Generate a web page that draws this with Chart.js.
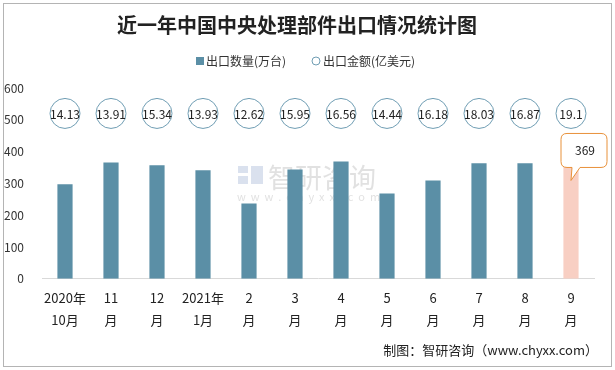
<!DOCTYPE html>
<html lang="zh">

<head>
    <meta charset="UTF-8">
    <title>近一年中国中央处理部件出口情况统计图</title>
    <script src="https://cdn.jsdelivr.net/npm/chart.js@4/dist/chart.umd.min.js"></script>
    <style>
        html, body { margin: 0; padding: 0; background: #fff; }
        #wrap { position: relative; width: 615px; height: 370px; }
        #frame { position: absolute; left: 3px; top: 3px; width: 607px; height: 362px; border: 1px solid #b4b4b4; pointer-events: none; }
    </style>
</head>

<body>
    <div id="wrap">
        <canvas id="myChart" width="615" height="370"></canvas>
        <div id="frame"></div>
    </div>

    <script>
        'use strict';

        // 月份（两行标签）
        const months = [
            ['2020年', '10月'], ['11', '月'], ['12', '月'], ['2021年', '1月'],
            ['2', '月'], ['3', '月'], ['4', '月'], ['5', '月'],
            ['6', '月'], ['7', '月'], ['8', '月'], ['9', '月']
        ];
        // 出口数量(万台)
        const qty = [297, 366, 357, 341, 237, 344, 369, 268, 309, 363, 363, 369];
        // 出口金额(亿美元)
        const amount = [14.13, 13.91, 15.34, 13.93, 12.62, 15.95, 16.56, 14.44, 16.18, 18.03, 16.87, 19.1];
        // 圆圈所在高度（轴上的数值）
        const circleLevel = 520;
        const yTicks = [0, 100, 200, 300, 400, 500, 600];

        const FONT = '"Noto Sans CJK SC", "Microsoft YaHei", sans-serif';
        const barColor = '#5b8fa6';
        const lastColor = '#f8cfc3';
        const circleColor = '#6f9db3';

        // 图例、金额圆圈里的数字、最后一根柱子的标注框、水印、来源
        const overlay = {
            id: 'overlay',
            beforeDatasetsDraw(chart) {
                const { ctx } = chart;
                ctx.save();
                // 水印
                ctx.fillStyle = 'rgba(170,170,170,0.35)';
                ctx.font = '27px ' + FONT;
                ctx.textAlign = 'left';
                ctx.textBaseline = 'middle';
                ctx.fillText('智研咨询', 268, 178);
                ctx.font = '11px ' + FONT;
                ctx.fillText('w  w  w  .  c  h  y  x  x  .  c  o  m', 237, 197);
                ctx.fillStyle = 'rgba(150,170,205,0.35)';
                ctx.fillRect(238, 166, 10, 7);
                ctx.fillRect(238, 176, 10, 8);
                ctx.fillRect(251, 166, 12, 18);
                ctx.restore();
            },
            afterDatasetsDraw(chart) {
                const { ctx } = chart;
                ctx.save();

                // 图例
                ctx.font = '12px ' + FONT;
                ctx.textBaseline = 'middle';
                ctx.textAlign = 'left';
                const ly = 61;
                const ds = chart.data.datasets;
                ctx.fillStyle = barColor;
                ctx.fillRect(196, ly - 4, 8, 8);
                ctx.fillStyle = '#333';
                ctx.fillText(ds[0].label, 206, ly);
                ctx.beginPath();
                ctx.arc(316, ly, 4, 0, Math.PI * 2);
                ctx.strokeStyle = circleColor;
                ctx.lineWidth = 1;
                ctx.stroke();
                ctx.fillText(ds[1].label, 323, ly);

                // 圆圈中的金额
                const pts = chart.getDatasetMeta(1).data;
                ctx.fillStyle = '#222';
                ctx.font = '12px ' + FONT;
                ctx.textAlign = 'center';
                pts.forEach((p, i) => ctx.fillText(String(amount[i]), p.x, p.y + 1));

                // 最后一根柱子的标注
                const bars = chart.getDatasetMeta(0).data;
                const last = bars[bars.length - 1];
                const bx = last.x, by = last.y;
                const left = bx - 10, right = bx + 36, top = by - 28, bottom = by + 6;
                const r = 6;
                ctx.beginPath();
                ctx.moveTo(left + r, top);
                ctx.lineTo(right - r, top);
                ctx.quadraticCurveTo(right, top, right, top + r);
                ctx.lineTo(right, bottom - r);
                ctx.quadraticCurveTo(right, bottom, right - r, bottom);
                ctx.lineTo(bx + 9, bottom);
                ctx.lineTo(bx, by + 19);
                ctx.lineTo(bx + 1, bottom);
                ctx.lineTo(left + r, bottom);
                ctx.quadraticCurveTo(left, bottom, left, bottom - r);
                ctx.lineTo(left, top + r);
                ctx.quadraticCurveTo(left, top, left + r, top);
                ctx.closePath();
                ctx.fillStyle = '#fff';
                ctx.fill();
                ctx.strokeStyle = '#e8913a';
                ctx.lineWidth = 1;
                ctx.stroke();
                ctx.fillStyle = '#222';
                ctx.fillText(String(qty[qty.length - 1]), (left + right) / 2 + 1, (top + bottom) / 2);

                // 来源
                ctx.font = '13px ' + FONT;
                ctx.textAlign = 'right';
                ctx.fillStyle = '#222';
                ctx.fillText('制图：智研咨询（www.chyxx.com）', 598, 350);
                ctx.restore();
            }
        };

        const ctx = document.getElementById('myChart').getContext('2d');
        const myChart = new Chart(ctx, {
            type: 'bar',
            data: {
                labels: months,
                datasets: [{
                    label: '出口数量(万台)',
                    data: qty,
                    backgroundColor: qty.map((v, i) => i === qty.length - 1 ? lastColor : barColor),
                    barPercentage: 0.66,
                    categoryPercentage: 0.5
                }, {
                    type: 'line',
                    label: '出口金额(亿美元)',
                    data: amount.map(() => circleLevel),
                    showLine: false,
                    pointStyle: 'circle',
                    pointRadius: 15,
                    pointBorderWidth: 1,
                    pointBorderColor: circleColor,
                    pointBackgroundColor: '#fff',
                    borderColor: circleColor,
                    backgroundColor: '#fff'
                }]
            },
            options: {
                responsive: false,
                animation: false,
                layout: { padding: { left: 0, right: 21, top: 0, bottom: 39 } },
                plugins: {
                    title: {
                        display: true,
                        text: '近一年中国中央处理部件出口情况统计图',
                        color: '#222',
                        font: { family: FONT, size: 20, weight: 'bold', lineHeight: 1.2 },
                        padding: { top: 13, bottom: 51 }
                    },
                    legend: { display: false },
                    tooltip: { enabled: false }
                },
                scales: {
                    x: {
                        grid: { display: false },
                        border: { display: true, color: '#d9d9d9' },
                        ticks: {
                            color: '#222',
                            font: { family: FONT, size: 13, lineHeight: 1.7 },
                            maxRotation: 0,
                            autoSkip: false,
                            padding: 0
                        }
                    },
                    y: {
                        min: 0,
                        max: 600,
                        afterBuildTicks: s => { s.ticks = yTicks.map(v => ({ value: v })); },
                        afterFit: s => { s.width = 42; },
                        grid: { display: false },
                        border: { display: false },
                        ticks: {
                            color: '#333',
                            font: { family: FONT, size: 12 },
                            padding: 10
                        }
                    }
                }
            },
            plugins: [overlay]
        });
    </script>

</body>

</html>
